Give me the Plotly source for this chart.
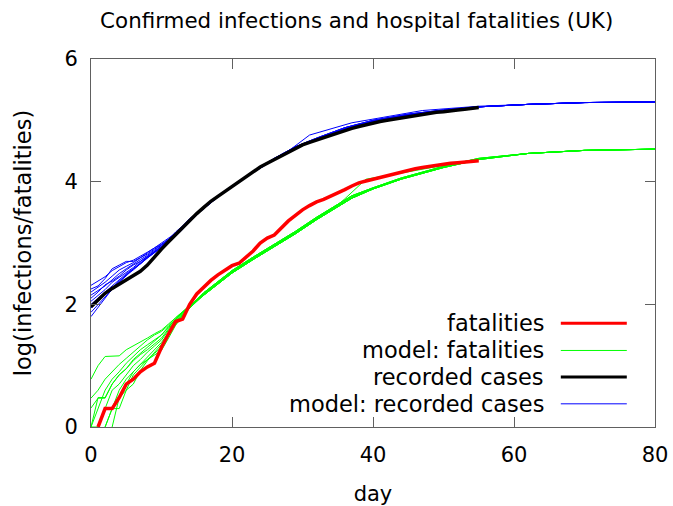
import plotly.graph_objects as go

# ---------------- data ----------------
obs_days = list(range(56))
recorded_cases = [1.96, 2.08, 2.18, 2.26, 2.33, 2.39, 2.46, 2.54, 2.64, 2.78,
                  2.90, 3.02, 3.14, 3.25, 3.38, 3.48, 3.58, 3.68, 3.76, 3.84,
                  3.92, 4.00, 4.09, 4.17, 4.24, 4.30, 4.36, 4.43, 4.49, 4.55,
                  4.60, 4.64, 4.68, 4.72, 4.76, 4.80, 4.84, 4.87, 4.90, 4.93,
                  4.95, 4.98, 5.00, 5.02, 5.04, 5.06, 5.08, 5.10, 5.11, 5.13,
                  5.14, 5.16, 5.17, 5.18, 5.19, 5.21]
fatalities = [None, 0.00, 0.30, 0.30, 0.48, 0.70, 0.78, 0.90, 0.98, 1.04,
              1.30, 1.52, 1.72, 1.76, 2.00, 2.17, 2.28, 2.39, 2.48, 2.56,
              2.63, 2.67, 2.77, 2.87, 3.00, 3.08, 3.13, 3.25, 3.36, 3.45,
              3.54, 3.61, 3.67, 3.71, 3.76, 3.82, 3.87, 3.93, 3.98, 4.01,
              4.04, 4.07, 4.10, 4.13, 4.16, 4.19, 4.21, 4.23, 4.25, 4.27,
              4.29, 4.30, 4.31, 4.32, 4.33, 4.34]

model_early_days = list(range(15))

blue_early = [
    [2.31, 2.38, 2.45, 2.55, 2.62, 2.68, 2.72, 2.78, 2.85, 2.92, 3.00, 3.08, 3.16, 3.26, 3.38],
    [2.25, 2.30, 2.42, 2.58, 2.64, 2.70, 2.70, 2.76, 2.84, 2.92, 2.98, 3.06, 3.18, 3.28, 3.40],
    [2.20, 2.28, 2.36, 2.46, 2.56, 2.62, 2.68, 2.76, 2.82, 2.90, 2.97, 3.06, 3.16, 3.27, 3.38],
    [2.15, 2.22, 2.30, 2.40, 2.50, 2.58, 2.66, 2.73, 2.80, 2.88, 2.96, 3.05, 3.14, 3.25, 3.37],
    [2.10, 2.20, 2.32, 2.38, 2.46, 2.56, 2.64, 2.70, 2.78, 2.86, 2.95, 3.04, 3.15, 3.26, 3.38],
    [2.05, 2.14, 2.24, 2.36, 2.44, 2.52, 2.60, 2.70, 2.78, 2.86, 2.94, 3.04, 3.14, 3.25, 3.37],
    [2.00, 2.10, 2.20, 2.30, 2.40, 2.50, 2.58, 2.66, 2.76, 2.85, 2.93, 3.03, 3.13, 3.24, 3.36],
    [1.94, 2.05, 2.16, 2.28, 2.38, 2.48, 2.56, 2.66, 2.75, 2.84, 2.93, 3.02, 3.12, 3.24, 3.36],
    [1.87, 2.00, 2.12, 2.24, 2.36, 2.48, 2.58, 2.68, 2.77, 2.85, 2.92, 3.02, 3.12, 3.23, 3.35],
    [1.80, 1.95, 2.10, 2.25, 2.36, 2.47, 2.57, 2.66, 2.76, 2.84, 2.92, 3.01, 3.11, 3.22, 3.35],
]
blue_tail_days = [16, 18, 20, 23, 26, 29, 32, 36, 40, 45, 50, 55, 62, 70, 80]
blue_tails = [
    [3.57, 3.76, 3.92, 4.16, 4.37, 4.56, 4.70, 4.87, 4.99, 5.09, 5.16, 5.22, 5.26, 5.29, 5.30],
    [3.56, 3.75, 3.91, 4.15, 4.36, 4.55, 4.69, 4.86, 4.98, 5.08, 5.16, 5.22, 5.26, 5.29, 5.30],
    [3.58, 3.77, 3.93, 4.17, 4.38, 4.57, 4.71, 4.88, 5.00, 5.10, 5.17, 5.22, 5.26, 5.29, 5.30],
]
blue_kink_days = [16, 18, 20, 23, 26, 28, 31, 37, 47, 55, 62, 70, 80]
blue_kink_values = [3.58, 3.77, 3.93, 4.17, 4.37, 4.50, 4.76, 4.96, 5.16, 5.23, 5.26, 5.29, 5.30]

green_early = [
    [0.78, 1.00, 1.15, 1.16, 1.16, 1.26, 1.32, 1.38, 1.45, 1.52, 1.58, 1.68, 1.78, 1.88, 1.98],
    [0.47, 0.60, 0.78, 0.90, 1.02, 1.12, 1.22, 1.32, 1.42, 1.50, 1.56, 1.66, 1.78, 1.88, 1.98],
    [0.31, 0.47, 0.47, 0.70, 0.85, 0.95, 1.10, 1.20, 1.30, 1.40, 1.50, 1.62, 1.76, 1.87, 1.97],
    [0.00, 0.30, 0.60, 0.78, 0.90, 1.04, 1.15, 1.26, 1.34, 1.42, 1.50, 1.64, 1.76, 1.87, 1.97],
    [0.00, 0.48, 0.48, 0.70, 0.85, 0.95, 1.08, 1.18, 1.26, 1.35, 1.45, 1.60, 1.74, 1.86, 1.96],
    [0.00, 0.00, 0.30, 0.60, 0.70, 0.85, 1.00, 1.10, 1.22, 1.32, 1.42, 1.58, 1.72, 1.85, 1.96],
    [None, 0.00, 0.30, 0.30, 0.60, 0.78, 0.90, 1.02, 1.14, 1.26, 1.38, 1.54, 1.70, 1.84, 1.95],
    [None, None, 0.00, 0.30, 0.30, 0.60, 0.85, 0.98, 1.10, 1.20, 1.30, 1.50, 1.68, 1.82, 1.94],
    [None, None, None, 0.00, 0.48, 0.70, 0.90, 1.02, 1.10, 1.18, 1.25, 1.45, 1.66, 1.80, 1.94],
    [None, None, 0.00, 0.30, 0.48, 0.60, 0.70, 0.92, 1.08, 1.22, 1.35, 1.52, 1.68, 1.82, 1.94],
]
green_tail_days = [16, 18, 20, 23, 26, 29, 32, 35, 37, 40, 44, 50, 55, 62, 70, 80]
green_tails = [
    [2.15, 2.33, 2.51, 2.73, 2.94, 3.15, 3.38, 3.59, 3.73, 3.88, 4.04, 4.23, 4.36, 4.46, 4.51, 4.53],
    [2.17, 2.35, 2.53, 2.75, 2.96, 3.17, 3.40, 3.61, 3.75, 3.89, 4.05, 4.24, 4.37, 4.46, 4.51, 4.53],
    [2.19, 2.37, 2.55, 2.77, 2.98, 3.19, 3.42, 3.63, 3.77, 3.90, 4.06, 4.25, 4.38, 4.46, 4.51, 4.53],
]
green_kink_days = [16, 18, 20, 23, 26, 29, 32, 35, 36, 39, 44, 50, 55, 62, 70, 80]
green_kink_values = [2.17, 2.35, 2.53, 2.75, 2.96, 3.17, 3.40, 3.62, 3.72, 4.04, 4.14, 4.26, 4.37, 4.46, 4.51, 4.53]

legend_labels = ["fatalities", "model: fatalities", "recorded cases", "model: recorded cases"]

RED = "#ff0000"
GREEN = "#00ff00"
BLACK = "#000000"
BLUE = "#0000ff"
FONT = "DejaVu Sans"

fig = go.Figure()

# model: fatalities (green thin)
for i, early in enumerate(green_early):
    if i == 1:
        tx, ty = green_kink_days, green_kink_values
    else:
        tx, ty = green_tail_days, green_tails[i % 3]
    fig.add_trace(go.Scatter(x=model_early_days + tx, y=early + ty, mode="lines",
                             line=dict(color=GREEN, width=1), connectgaps=False,
                             name=legend_labels[1], showlegend=False, hoverinfo="skip"))

# model: recorded cases (blue thin)
for i, early in enumerate(blue_early):
    if i == 0:
        tx, ty = blue_kink_days, blue_kink_values
    else:
        tx, ty = blue_tail_days, blue_tails[i % 3]
    fig.add_trace(go.Scatter(x=model_early_days + tx, y=early + ty, mode="lines",
                             line=dict(color=BLUE, width=1),
                             name=legend_labels[3], showlegend=False, hoverinfo="skip"))

fig.add_trace(go.Scatter(x=obs_days, y=fatalities, mode="lines",
                         line=dict(color=RED, width=3.5), name=legend_labels[0],
                         showlegend=False))
fig.add_trace(go.Scatter(x=obs_days, y=recorded_cases, mode="lines",
                         line=dict(color=BLACK, width=3.5), name=legend_labels[2],
                         showlegend=False))

# gnuplot-style legend: text right-aligned, sample line on the right
legend_colors = [RED, GREEN, BLACK, BLUE]
legend_widths = [3, 1, 3, 1]
legend_rows = [0.282, 0.208, 0.136, 0.063]
annotations = []
shapes = []
for lab, col, w, yy in zip(legend_labels, legend_colors, legend_widths, legend_rows):
    annotations.append(dict(x=0.807, y=yy, xref="paper", yref="paper", text=lab,
                            showarrow=False, xanchor="right", yanchor="middle",
                            font=dict(family=FONT, size=22.5, color="#000000")))
    shapes.append(dict(type="line", xref="paper", yref="paper", x0=0.833, x1=0.950,
                       y0=yy, y1=yy, line=dict(color=col, width=w)))

axis_common = dict(showgrid=False, zeroline=False, showline=True, mirror="ticks",
                   linecolor="#606060", linewidth=1, ticks="inside", ticklen=10,
                   tickcolor="#606060", tickwidth=1, automargin=False,
                   tickfont=dict(family=FONT, size=21, color="#000000"))

fig.update_layout(
    width=673, height=506,
    margin=dict(l=91, r=18, t=59, b=79),
    paper_bgcolor="white", plot_bgcolor="white",
    showlegend=False,
    title=dict(text="Confirmed infections and hospital fatalities (UK)",
               x=0.530, xref="container", xanchor="center",
               y=0.960, yref="container", yanchor="middle",
               font=dict(family=FONT, size=21.4, color="#000000")),
    xaxis=dict(range=[0, 80], tickvals=[0, 20, 40, 60, 80], ticklabelstandoff=9,
               title=dict(text="day", font=dict(family=FONT, size=21, color="#000000"),
                          standoff=22),
               **axis_common),
    yaxis=dict(range=[0, 6], tickvals=[0, 2, 4, 6], ticklabelstandoff=8,
               title=dict(text="log(infections/fatalities)",
                          font=dict(family=FONT, size=22.5, color="#000000"), standoff=26),
               **axis_common),
    annotations=annotations,
    shapes=shapes,
)

fig.write_html("out.html")
